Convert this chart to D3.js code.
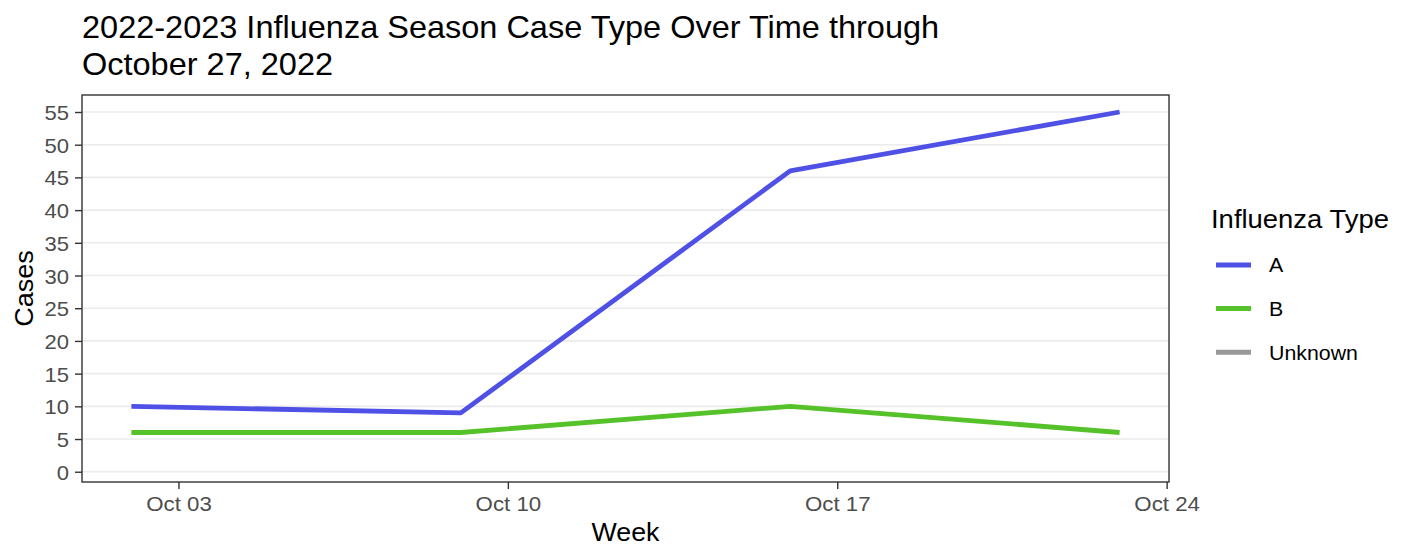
<!DOCTYPE html>
<html>
<head>
<meta charset="utf-8">
<script src="https://cdn.jsdelivr.net/npm/d3@7"></script>
<style>
  html, body { margin: 0; padding: 0; background: #fff; }
  svg { display: block; font-family: "Liberation Sans", Arial, sans-serif; }
</style>
</head>
<body>
<svg id="chart" width="1406" height="547"></svg>
<script>
// ---- data ----
const weeks = ["2022-10-02", "2022-10-09", "2022-10-16", "2022-10-23"];
const seriesNames = ["A", "B", "Unknown"];
const valuesA = [10, 9, 46, 55];
const valuesB = [6, 6, 10, 6];
const valuesUnknown = [];   // no Unknown cases recorded (legend only)
const seriesColors = ["#4F51E6", "#55C22A", "#999999"];
const yTicks = [0, 5, 10, 15, 20, 25, 30, 35, 40, 45, 50, 55];
const xTickDates = ["2022-10-03", "2022-10-10", "2022-10-17", "2022-10-24"];
const titleLines = ["2022-2023 Influenza Season Case Type Over Time through", "October 27, 2022"];

const parse = d3.timeParse("%Y-%m-%d");
const seriesValues = [valuesA, valuesB, valuesUnknown];
const series = seriesNames.map((name, i) => ({
  name,
  color: seriesColors[i],
  points: seriesValues[i].map((v, j) => ({ date: parse(weeks[j]), value: v }))
}));

// widen text slightly to mimic the reference's glyph rendering
function widen(sel, f) {
  sel.each(function () {
    const w = this.getComputedTextLength();
    if (w > 0) {
      d3.select(this).attr("textLength", w * f).attr("lengthAdjust", "spacingAndGlyphs");
    }
  });
}

// ---- layout ----
const panel = { left: 82, right: 1169, top: 95, bottom: 482 };
const svg = d3.select("#chart");

const dates = weeks.map(parse);
const span = dates[dates.length - 1] - dates[0];
const x = d3.scaleTime()
  .domain([new Date(+dates[0] - span * 0.05), new Date(+dates[dates.length - 1] + span * 0.05)])
  .range([panel.left, panel.right]);
const y = d3.scaleLinear()
  .domain([-1.57, 57.6])
  .range([panel.bottom, panel.top]);

// gridlines
svg.append("g").selectAll("line").data(yTicks).join("line")
  .attr("x1", panel.left).attr("x2", panel.right)
  .attr("y1", d => y(d)).attr("y2", d => y(d))
  .attr("stroke", "#EBEBEB").attr("stroke-width", 1.6);

// lines
const line = d3.line().x(d => x(d.date)).y(d => y(d.value));
svg.append("g").selectAll("path").data(series.filter(s => s.points.length)).join("path")
  .attr("d", d => line(d.points))
  .attr("fill", "none")
  .attr("stroke", d => d.color)
  .attr("stroke-width", 4.8)
  .attr("stroke-linejoin", "round");

// panel border
svg.append("rect")
  .attr("x", panel.left).attr("y", panel.top)
  .attr("width", panel.right - panel.left).attr("height", panel.bottom - panel.top)
  .attr("fill", "none").attr("stroke", "#333333").attr("stroke-width", 1.4);

// y axis
const yAxis = svg.append("g")
  .attr("transform", `translate(${panel.left},0)`)
  .call(d3.axisLeft(y).tickValues(yTicks).tickSize(7).tickPadding(6).tickFormat(d3.format("d")));
yAxis.select(".domain").remove();
yAxis.selectAll(".tick line").attr("stroke", "#333333").attr("stroke-width", 1.4);
yAxis.selectAll(".tick text").attr("fill", "#4D4D4D").style("font-size", "21px")
  .style("font-family", "'Liberation Sans', Arial, sans-serif").attr("dy", "0.36em");
widen(yAxis.selectAll(".tick text"), 1.05);

// x axis
const fmt = d3.timeFormat("%b %d");
const xAxis = svg.append("g")
  .attr("transform", `translate(0,${panel.bottom})`)
  .call(d3.axisBottom(x).tickValues(xTickDates.map(parse)).tickSize(7).tickPadding(7).tickFormat(fmt));
xAxis.select(".domain").remove();
xAxis.selectAll(".tick line").attr("stroke", "#333333").attr("stroke-width", 1.4);
xAxis.selectAll(".tick text").attr("fill", "#4D4D4D").style("font-size", "21px")
  .style("font-family", "'Liberation Sans', Arial, sans-serif").attr("dy", "0.71em");
widen(xAxis.selectAll(".tick text"), 1.06);

// axis titles
const wk = svg.append("text")
  .attr("x", (panel.left + panel.right) / 2).attr("y", 541)
  .attr("text-anchor", "middle").style("font-size", "26px").attr("fill", "#000")
  .text("Week");
widen(wk, 1.03);
const cs = svg.append("text")
  .attr("transform", `translate(33,${(panel.top + panel.bottom) / 2}) rotate(-90)`)
  .attr("text-anchor", "middle").style("font-size", "26px").attr("fill", "#000")
  .text("Cases");
widen(cs, 1.04);

// title
const tt = svg.append("g").selectAll("text").data(titleLines).join("text")
  .attr("x", 82).attr("y", (d, i) => 37.5 + i * 37)
  .style("font-size", "30.5px").attr("fill", "#000")
  .text(d => d);
widen(tt, 1.065);

// legend
const legend = svg.append("g");
const lt = legend.append("text")
  .attr("x", 1211).attr("y", 227.5)
  .style("font-size", "26px").attr("fill", "#000")
  .text("Influenza Type");
widen(lt, 1.055);
const items = legend.selectAll("g.item").data(series).join("g")
  .attr("class", "item")
  .attr("transform", (d, i) => `translate(0,${265 + i * 43.6})`);
items.append("line")
  .attr("x1", 1216).attr("x2", 1251).attr("y1", 0).attr("y2", 0)
  .attr("stroke", d => d.color).attr("stroke-width", 5);
const it = items.append("text")
  .attr("x", 1269).attr("y", 0).attr("dy", "0.36em")
  .style("font-size", "20.5px").attr("fill", "#000")
  .text(d => d.name);
widen(it, 1.04);
</script>
</body>
</html>
